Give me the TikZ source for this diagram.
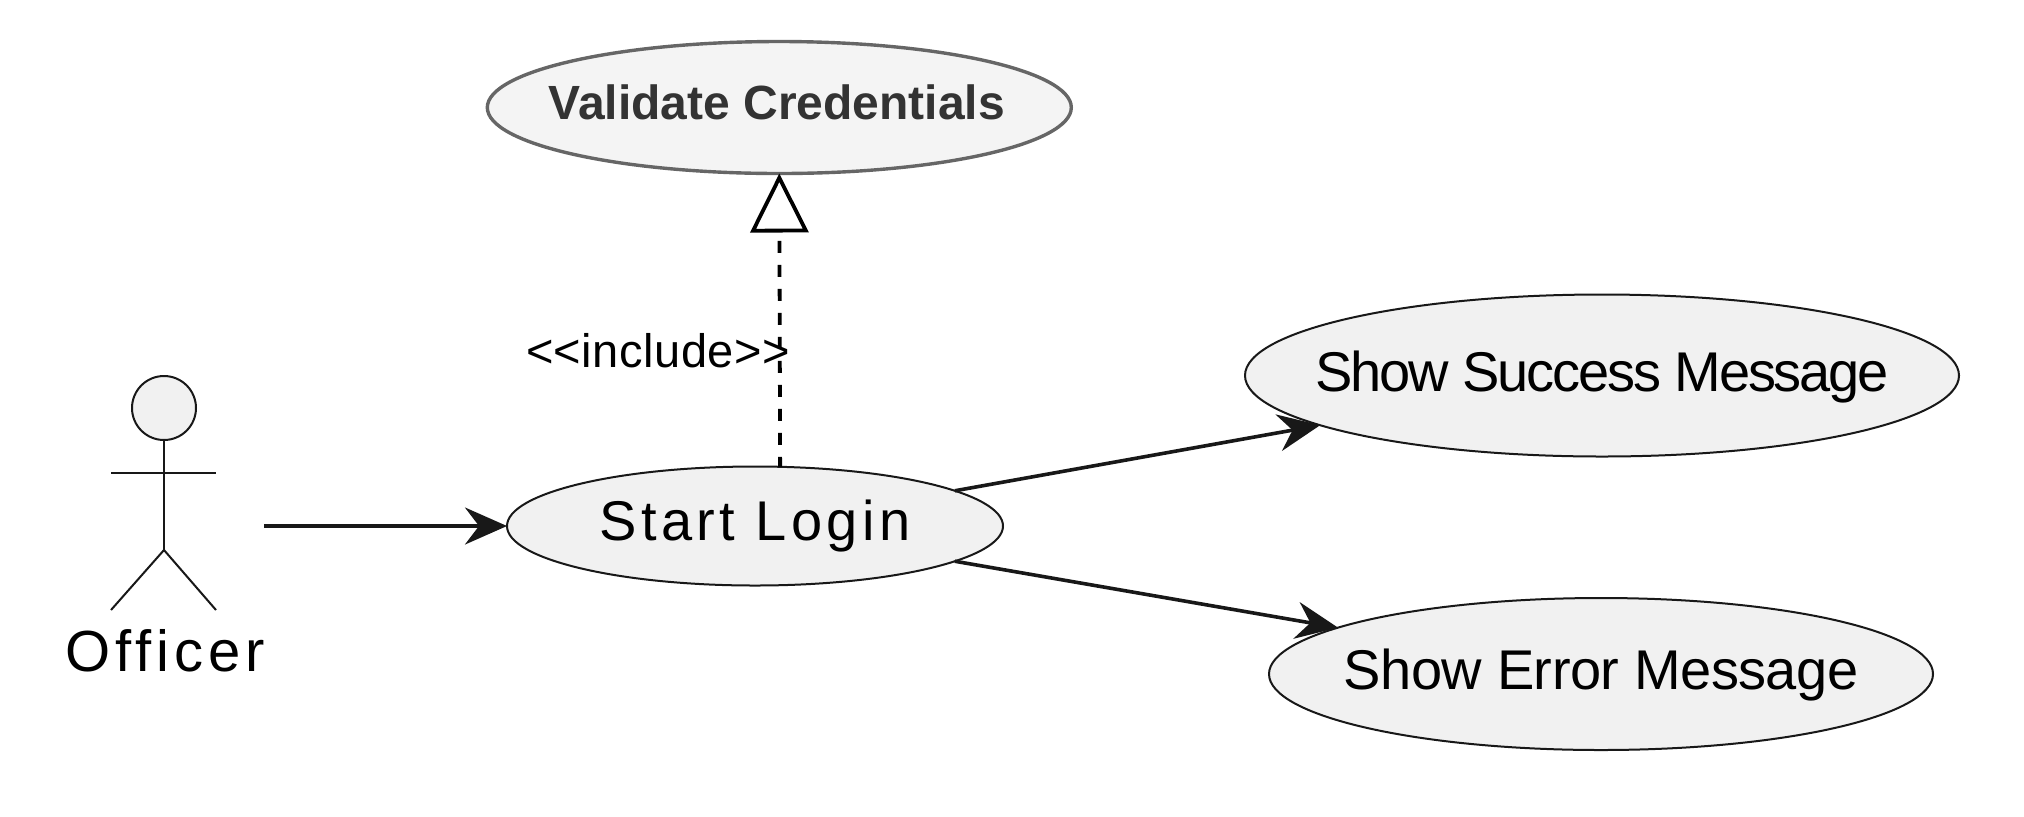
\documentclass[tikz,border=0pt]{standalone}
\usepackage{fontspec}
\setmainfont{Liberation Sans}
\usetikzlibrary{arrows.meta,shapes.geometric}
\definecolor{ink}{HTML}{181818}
\definecolor{ufill}{HTML}{F1F1F1}
\definecolor{vfill}{HTML}{F4F4F4}
\definecolor{vline}{HTML}{666666}
\definecolor{vtext}{HTML}{333333}
\newcommand{\uctext}[2]{\smash{\makebox[0pt]{\raisebox{#1}{#2}}}}
\tikzset{
  x=0.5pt,y=-0.5pt,
  usecase/.style={ellipse,draw=ink,fill=ufill,line width=1pt,inner sep=0pt,outer sep=0pt,text height=0pt,text depth=0pt,text=black},
  flow/.style={draw=ink,line width=1.8pt,-{Stealth[length=21pt,width=18.5pt,inset=7pt]}},
  stick/.style={draw=ink,line width=1pt},
  incl/.style={draw=black,line width=1.9pt,dash pattern=on 6pt off 6pt,dash phase=1pt,
    -{Triangle[open,fill=white,length=29.5pt,width=29pt]}}
}
\begin{document}
\begin{tikzpicture}
\useasboundingbox (0,0) rectangle (2024,816);
% actor
\node[circle,stick,fill=ufill,minimum size=32pt,inner sep=0pt,outer sep=0pt] (head) at (164,408) {};
\coordinate (hip) at (164,550);
\coordinate (armL) at (111,473);
\coordinate (armR) at (216,473);
\coordinate (legL) at (111,610);
\coordinate (legR) at (216,610);
\draw[stick] (head.south) -- (hip);
\draw[stick] (armL) -- (armR);
\draw[stick] (legL) -- (hip) -- (legR);
\node[inner sep=0pt,anchor=base,font=\fontsize{29}{29}\selectfont\addfontfeature{LetterSpace=8.5}] (officer) at (165,671) {Officer};
\coordinate (actorOut) at (264,526);
% use cases
\node[usecase,draw=vline,fill=vfill,line width=1.7pt,minimum width=292pt,minimum height=66pt,text=vtext,
  font=\fontsize{24}{24}\selectfont\bfseries] (validate) at (779.3,107.5) {\uctext{-5.75pt}{\hspace*{-2.5pt}Validate Credentials}};
\node[usecase,minimum width=248pt,minimum height=59.5pt,
  font=\fontsize{28}{28}\selectfont\addfontfeature{LetterSpace=8}] (start) at (755,526) {\uctext{-7pt}{Start Login}};
\node[usecase,minimum width=357pt,minimum height=81pt,
  font=\fontsize{28}{28}\selectfont\addfontfeature{LetterSpace=-3.8}] (success) at (1602,375.5) {\uctext{-7.75pt}{Show Success Message}};
\node[usecase,minimum width=332pt,minimum height=76pt,
  font=\fontsize{28}{28}\selectfont\addfontfeature{LetterSpace=-1}] (error) at (1601,674) {\uctext{-7.5pt}{Show Error Message}};
% connectors
\draw[flow] (actorOut) -- (start.west);
\draw[flow] (start.10.2) -- (success.190.9);
\draw[flow] (start.-10.4) -- (error.170.3);
\draw[incl] (start.67.68) -- (validate.south);
\node[inner sep=0pt,anchor=base,font=\fontsize{23.5}{24}\selectfont\addfontfeature{LetterSpace=1.1}] (inclabel) at (658,367) {<{}<include>{}>};
\end{tikzpicture}
\end{document}
